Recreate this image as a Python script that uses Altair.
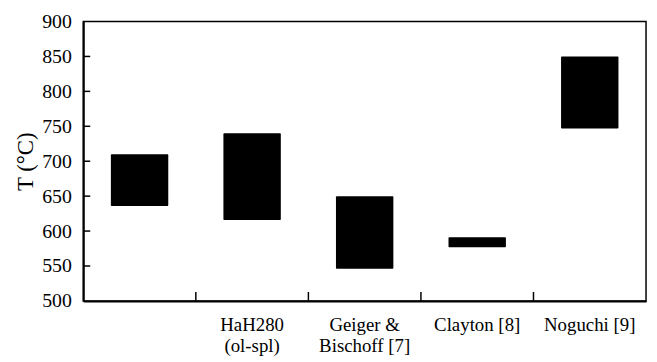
import altair as alt
import pandas as pd

categories = [" ", "HaH280|(ol-spl)", "Geiger &|Bischoff [7]", "Clayton [8]", "Noguchi [9]"]
t_low = [636, 616, 546, 577, 747]
t_high = [710, 740, 650, 591, 850]
y_tick_values = [500, 550, 600, 650, 700, 750, 800, 850, 900]
y_inner_ticks = [550, 600, 650, 700, 750, 800, 850]

df = pd.DataFrame({"cat": categories, "lo": t_low, "hi": t_high})
tick_df = pd.DataFrame({"cat": categories[1:]})
ytick_df = pd.DataFrame({"lo": y_inner_ticks})
frame_df = pd.DataFrame({"a": [0]})

W, H = 568, 282
font = "'Liberation Serif', 'Times New Roman', serif"

xscale = alt.Scale(domain=categories, paddingInner=0, paddingOuter=0)
yscale = alt.Scale(domain=[500, 900], nice=False, zero=False)

xaxis = alt.Axis(title=None, labelAngle=0, tickSize=0, labelPadding=15,
                 labelExpr="split(datum.label, '|')", labelLineHeight=21,
                 labelFont=font, labelFontSize=19, labelColor="black",
                 domainColor="black", domainWidth=2)
yaxis = alt.Axis(title="T (°C)", values=y_tick_values, tickSize=0,
                 labelOverlap=False, labelFont=font, titleFont=font,
                 labelPadding=12, labelFontSize=20, labelColor="black",
                 titleFontSize=23, titleFontWeight="normal",
                 titleColor="black", titlePadding=4, grid=False,
                 domainColor="black", domainWidth=2)

bars = alt.Chart(df).mark_bar(color="black", width=alt.RelativeBandSize(0.51), cornerRadius=1).encode(
    x=alt.X("cat:N", scale=xscale, sort=categories, axis=xaxis),
    y=alt.Y("lo:Q", scale=yscale, axis=yaxis),
    y2="hi:Q",
)

frame = alt.Chart(frame_df).mark_rect(fillOpacity=0, stroke="black", strokeWidth=1.5).encode(
    x=alt.value(0), x2=alt.value(W), y=alt.value(0), y2=alt.value(H)
)

xticks = alt.Chart(tick_df).mark_rule(color="black", strokeWidth=1.5).encode(
    x=alt.X("cat:N", scale=xscale, sort=categories, bandPosition=0, axis=xaxis),
    y=alt.value(H),
    y2=alt.value(H - 9),
)

yticks = alt.Chart(ytick_df).mark_rule(color="black", strokeWidth=1.5).encode(
    y=alt.Y("lo:Q", scale=yscale, axis=yaxis),
    x=alt.value(0),
    x2=alt.value(7),
)

chart = alt.layer(bars, xticks, yticks, frame).properties(
    width=W, height=H,
    autosize=alt.AutoSizeParams(type="none"),
    padding={"left": 76, "top": 12, "right": 3, "bottom": 59},
).configure(background="white", font=font).configure_view(stroke=None)

chart.save("out.html", embed_options={"renderer": "svg", "actions": False})
